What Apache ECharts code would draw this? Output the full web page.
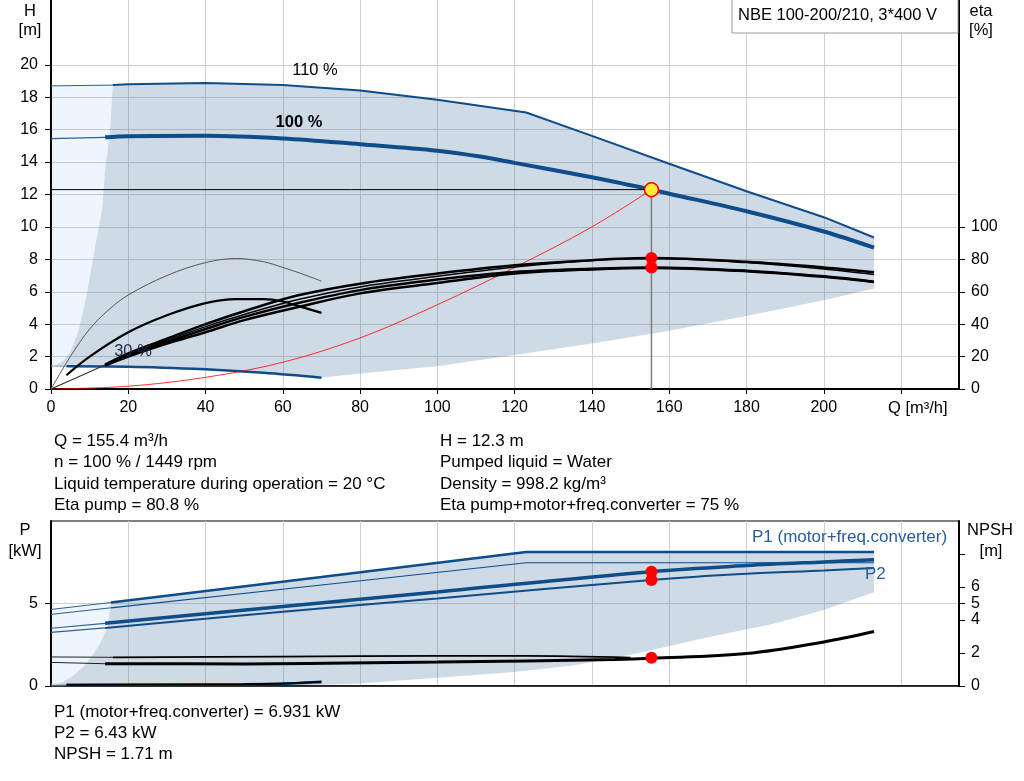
<!DOCTYPE html>
<html>
<head>
<meta charset="utf-8">
<script src="https://cdn.jsdelivr.net/npm/echarts@6/dist/echarts.min.js"></script>
<style>html,body{margin:0;padding:0;background:#fff}#c{width:1024px;height:781px}</style>
</head>
<body>
<div id="c"></div>
<script>
// ---------- axis ticks ----------
const qTicks = [0,20,40,60,80,100,120,140,160,180,200,220];
const qLabels = [0,20,40,60,80,100,120,140,160,180,200];
const hTicks = [0,2,4,6,8,10,12,14,16,18,20];
const etaTicks = [0,20,40,60,80,100];
const pTicks = [0,5];
const npshLabels = [0,2,4,5,6];
const npshTickMarks = [0,2,4,5,6,8];

// ---------- operating point ----------
const opQ = 155.4, opH = 12.3, opEtaPump = 80.8, opEtaTotal = 75, opP1 = 6.931, opP2 = 6.43, opNPSH = 1.71;

// ---------- head curves (Q, H) ----------
const h110Thin = [[0,18.7],[16,18.75]];
const h110 = [[16,18.75],[20,18.8],[40,18.88],[60,18.75],[80,18.42],[100,17.85],[123,17.06],[140,15.62],[160,13.9],[180,12.2],[200,10.6],[213,9.35]];
const h100Thin = [[0,15.45],[14,15.53]];
const h100 = [[14,15.53],[20,15.6],[40,15.63],[60,15.46],[80,15.1],[100,14.7],[111,14.34],[120,13.95],[140,13.06],[155.4,12.3],[160,12.05],[180,10.97],[200,9.72],[213,8.72]];
const hMinThin = [[0,1.42],[4,1.4]];
const hMin = [[4,1.4],[20,1.38],[40,1.22],[55,1.0],[70,0.7]];
const systemCurve = [[0,0],[20,0.17],[40,0.72],[60,1.65],[80,3.15],[100,5.2],[120,7.5],[140,10.0],[155.4,12.3]];
// operating range boundaries (Q, H)
const topLeftEdge = [[16,18.75],[15.3,16],[14,13.5],[13.2,11],[12,9.5],[10.5,7.5],[9,5.5],[7,3.5],[5,2.3],[3,1.7],[1,1.44]];
const topLowerEdge = [[213,6.2],[200,5.48],[180,4.5],[160,3.6],[140,2.81],[120,2.09],[100,1.41],[80,0.96],[70,0.7]];

// ---------- efficiency curves (Q, eta %) ----------
const etaLowThin = [[0,0],[5,20],[10,37],[15,49],[20,58],[30,70],[40,78],[48,80.5],[55,78.5],[60,75],[65,71],[70,66.5]];
const etaLow = [[4,8.5],[10,20],[20,35],[30,45.5],[40,53],[48,55.5],[55,55.5],[60,54],[65,50.5],[70,47]];
const etaStart = [[0,0],[14,14.8]];
const etaA = [[14,15],[20,22],[30,31],[40,40],[50,48],[64,57.8],[80,65],[100,71.2],[120,76.3],[140,79.5],[155.4,80.8],[180,78.5],[200,75],[213,72]];
const etaB = [[14,14.8],[20,21],[30,30],[40,38.5],[50,46],[64,55.2],[80,63],[100,69.5],[120,75.3],[140,79.3],[155.4,80.5],[180,78],[200,74],[213,70.6]];
const etaC = [[14,14.7],[20,20.5],[30,29],[40,37],[50,44.5],[64,53.1],[80,61],[100,67.5],[120,72.2],[140,74.2],[155.4,75],[180,73],[200,69.5],[213,66.2]];
const etaD = [[14,14.5],[20,20],[30,28],[40,35],[50,42.5],[64,50.6],[80,59],[100,65.4],[120,71.2],[140,73.8],[155.4,74.7],[180,72.7],[200,69.2],[213,66]];

// ---------- power curves (Q, P kW) ----------
const p1MaxThin = [[0,4.64],[15.5,5.06]];
const p1Max = [[15.5,5.06],[70,6.6],[123,8.12],[213,8.12]];
const p2MaxThin = [[0,4.34],[15.5,4.74]];
const p2Max = [[15.5,4.74],[70,6.12],[123,7.47],[213,7.47]];
const p1Thin = [[0,3.5],[14,3.8]];
const p1 = [[14,3.8],[60,4.82],[100,5.7],[155.4,6.93],[180,7.3],[200,7.52],[213,7.65]];
const p2Thin = [[0,3.25],[14,3.52]];
const p2 = [[14,3.52],[60,4.5],[100,5.3],[155.4,6.43],[180,6.8],[200,7.0],[213,7.15]];
const pMinThin = [[0,0.05],[4,0.06]];
const pMin = [[4,0.06],[30,0.08],[50,0.1],[60,0.14],[70,0.22]];
const bottomLeftEdge = [[15.5,5.06],[15.4,4.78],[14.6,3.57],[12.7,2.57],[10.5,1.77],[8.4,1.16],[5.35,0.56],[3.2,0.26],[0.6,0.06]];
const bottomLowerEdge = [[213,5.68],[200,4.6],[187,3.78],[170,2.95],[155,2.15],[145,1.65],[135,1.25],[120,0.85],[100,0.5],[80,0.15],[70,0.08],[2,0.05]];

// ---------- NPSH curves (Q, m) ----------
const npshUpperThin = [[0,1.76],[16,1.74]];
const npshUpper = [[16,1.74],[60,1.78],[100,1.82],[123,1.82],[150,1.72]];
const npshLowerThin = [[0,1.43],[14,1.35]];
const npshLower = [[14,1.35],[50,1.34],[100,1.45],[146,1.61],[155.4,1.68],[180,1.97],[200,2.67],[213,3.3]];
const npshMin = [[4,0.08],[50,0.1],[60,0.15],[70,0.28]];

// ---------- styles ----------
const FONT = '"Liberation Sans", Arial, Helvetica, sans-serif';
const BLUE = '#0e4c8a';
const THINBLUE = '#2f5f93';
const GRID = '#d0d0d0';
const SHADE = 'rgba(30,80,140,0.21)';
const LIGHT = 'rgba(60,140,230,0.087)';

function line(data, color, width, xi, yi, extra) {
  return Object.assign({
    type: 'line', data: data, xAxisIndex: xi, yAxisIndex: yi,
    showSymbol: false, symbol: 'none', silent: true, smooth: 0.35,
    lineStyle: { color: color, width: width }, z: 3
  }, extra || {});
}
function area(points, fill, xi, yi) {
  return {
    type: 'custom', xAxisIndex: xi, yAxisIndex: yi, silent: true, z: 1,
    data: [[0, 0]],
    renderItem: function (params, api) {
      return { type: 'polygon', shape: { points: points.map(function (p) { return api.coord(p); }) }, style: { fill: fill } };
    }
  };
}
function dots(data, yi, xi, fill, size, border) {
  return {
    type: 'scatter', data: data, xAxisIndex: xi, yAxisIndex: yi, silent: true, z: 10,
    symbolSize: size, itemStyle: { color: fill, borderColor: border || fill, borderWidth: border ? 1.5 : 0, opacity: 1 }
  };
}

// polygons built from boundary arrays
const topLight = [[0, hMinThin[0][1]]].concat(h110Thin, topLeftEdge.slice(1));
const topShade = h110.concat(topLowerEdge, hMin.slice().reverse(), topLeftEdge.slice().reverse());
const bottomLight = [[0, bottomLowerEdge[bottomLowerEdge.length - 1][1]]].concat(p1MaxThin, bottomLeftEdge.slice(1));
const bottomShade = p1Max.concat(bottomLowerEdge, bottomLeftEdge.slice().reverse());

const labelStyle = { color: '#000', fontSize: 16, fontFamily: FONT };
const axLine = (w) => ({ show: true, onZero: false, lineStyle: { color: '#000', width: w } });

function txt(text, x, y, opt, size) {
  return { type: 'text', x: x, y: y, z: 100, silent: true,
    style: Object.assign({ text: text, font: (size || 17) + 'px ' + FONT, fill: '#000', align: 'left', verticalAlign: 'middle' }, opt || {}) };
}

const option = {
  animation: false,
  backgroundColor: '#fff',
  grid: [
    { left: 51, right: 65, top: 0, height: 389 },
    { left: 51, right: 65, top: 521, height: 165, show: true, borderColor: '#000', borderWidth: 1, backgroundColor: 'transparent' }
  ],
  xAxis: [
    { type: 'value', gridIndex: 0, min: 0, max: 235, interval: 20,
      axisLine: axLine(2),
      axisTick: { show: true, length: 5, lineStyle: { color: '#000' }, customValues: qTicks },
      axisLabel: Object.assign({ margin: 11, customValues: qLabels }, labelStyle),
      splitLine: { show: true, lineStyle: { color: GRID, width: 1 } } },
    { type: 'value', gridIndex: 1, min: 0, max: 235, interval: 20,
      axisLine: axLine(1.5), axisTick: { show: false }, axisLabel: { show: false },
      splitLine: { show: true, lineStyle: { color: GRID, width: 1 } } }
  ],
  yAxis: [
    { type: 'value', gridIndex: 0, min: 0, max: 24, interval: 2, position: 'left',
      axisLine: axLine(2),
      axisTick: { show: true, length: 6, lineStyle: { color: '#000' }, customValues: hTicks },
      axisLabel: Object.assign({ margin: 13, customValues: hTicks }, labelStyle),
      splitLine: { show: true, lineStyle: { color: GRID, width: 1 } } },
    { type: 'value', gridIndex: 0, min: 0, max: 240, interval: 20, position: 'right',
      axisLine: axLine(2),
      axisTick: { show: true, length: 6, lineStyle: { color: '#000' }, customValues: etaTicks },
      axisLabel: Object.assign({ margin: 12, customValues: etaTicks }, labelStyle),
      splitLine: { show: false } },
    { type: 'value', gridIndex: 1, min: 0, max: 10, interval: 5, position: 'left',
      axisLine: axLine(2),
      axisTick: { show: true, length: 6, lineStyle: { color: '#000' }, customValues: pTicks },
      axisLabel: Object.assign({ margin: 13, customValues: pTicks }, labelStyle),
      splitLine: { show: true, lineStyle: { color: GRID, width: 1 } } },
    { type: 'value', gridIndex: 1, min: 0, max: 10, interval: 1, position: 'right',
      axisLine: axLine(2),
      axisTick: { show: true, length: 6, lineStyle: { color: '#000' }, customValues: npshTickMarks },
      axisLabel: Object.assign({ margin: 12, customValues: npshLabels }, labelStyle),
      splitLine: { show: false } }
  ],
  series: [
    // ---- top chart areas ----
    area(topLight, LIGHT, 0, 0),
    area(topShade, SHADE, 0, 0),
    // ---- head curves ----
    line(h110Thin, THINBLUE, 1, 0, 0, { smooth: false }),
    line(h110, BLUE, 2, 0, 0, { smooth: false }),
    line(h100Thin, THINBLUE, 1.2, 0, 0, { smooth: false }),
    line(h100, BLUE, 4, 0, 0),
    line(hMinThin, '#8899aa', 1, 0, 0, { smooth: false }),
    line(hMin, BLUE, 2.5, 0, 0),
    line(systemCurve, 'rgba(255,0,0,0.8)', 1, 0, 0),
    line([[0, opH], [opQ, opH]], '#000', 1, 0, 0, { smooth: false }),
    line([[opQ, opH], [opQ, 0]], '#7f7f7f', 1.5, 0, 0, { smooth: false }),
    // ---- efficiency curves ----
    line(etaLowThin, '#555', 1, 0, 1),
    line(etaLow, '#000', 2.2, 0, 1),
    line(etaStart, '#333', 1.2, 0, 1, { smooth: false }),
    line(etaA, '#000', 2.5, 0, 1),
    line(etaB, '#000', 1.5, 0, 1),
    line(etaC, '#000', 2.5, 0, 1),
    line(etaD, '#000', 2.5, 0, 1),
    dots([[opQ, opEtaPump], [opQ, opEtaTotal]], 1, 0, '#ff0000', 12),
    dots([[opQ, opH]], 0, 0, '#ffee33', 14, '#ff0000'),
    // ---- bottom chart areas ----
    area(bottomLight, LIGHT, 1, 2),
    area(bottomShade, SHADE, 1, 2),
    // ---- power curves ----
    line(p1MaxThin, THINBLUE, 1, 1, 2, { smooth: false }),
    line(p1Max, BLUE, 2.5, 1, 2, { smooth: false }),
    line(p2MaxThin, THINBLUE, 1, 1, 2, { smooth: false }),
    line(p2Max, BLUE, 1.2, 1, 2, { smooth: false }),
    line(p1Thin, THINBLUE, 1.2, 1, 2, { smooth: false }),
    line(p1, BLUE, 3.5, 1, 2),
    line(p2Thin, THINBLUE, 1.2, 1, 2, { smooth: false }),
    line(p2, BLUE, 2, 1, 2),
    line(pMinThin, '#8899aa', 1, 1, 2, { smooth: false }),
    line(pMin, BLUE, 2.5, 1, 2),
    // ---- NPSH curves ----
    line(npshUpperThin, '#222', 1, 1, 3, { smooth: false }),
    line(npshUpper, '#000', 1.8, 1, 3),
    line(npshLowerThin, '#222', 1, 1, 3, { smooth: false }),
    line(npshLower, '#000', 3, 1, 3),
    line(npshMin, '#000', 2, 1, 3),
    dots([[opQ, opP1], [opQ, opP2]], 2, 1, '#ff0000', 12),
    dots([[opQ, opNPSH]], 3, 1, '#ff0000', 12)
  ],
  graphic: [
    { type: 'rect', z: 99, silent: true, shape: { x: 732, y: -1, width: 226, height: 34 }, style: { fill: '#fff', stroke: '#9a9a9a', lineWidth: 1 } },
    txt('NBE 100-200/210, 3*400 V', 738, 15.5, null, 16.5),
    txt('H', 30, 11, { align: 'center' }, 16.5),
    txt('[m]', 30, 30, { align: 'center' }, 16.5),
    txt('eta', 981, 11, { align: 'center' }, 16.5),
    txt('[%]', 981, 30, { align: 'center' }, 16.5),
    txt('Q [m³/h]', 888, 408, null, 16.5),
    txt('110 %', 315, 70, { align: 'center' }, 16.5),
    txt('100 %', 299, 122, { align: 'center', font: 'bold 16.5px ' + FONT }),
    txt('30 %', 133, 351, { align: 'center', fill: '#1c2840' }, 16.5),
    txt('Q = 155.4 m³/h', 54, 441.5),
    txt('n = 100 % / 1449 rpm', 54, 462.5),
    txt('Liquid temperature during operation = 20 °C', 54, 484.5),
    txt('Eta pump = 80.8 %', 54, 505.5),
    txt('H = 12.3 m', 440, 441.5),
    txt('Pumped liquid = Water', 440, 462.5),
    txt('Density = 998.2 kg/m³', 440, 484.5),
    txt('Eta pump+motor+freq.converter = 75 %', 440, 505.5),
    txt('P', 25, 530, { align: 'center' }, 16.5),
    txt('[kW]', 25, 551, { align: 'center' }, 16.5),
    txt('NPSH', 990, 530, { align: 'center' }, 16.5),
    txt('[m]', 991, 551, { align: 'center' }, 16.5),
    txt('P1 (motor+freq.converter)', 752, 537, { fill: '#2a5d98' }),
    txt('P2', 865, 574, { fill: '#2a5d98' }),
    txt('P1 (motor+freq.converter) = 6.931 kW', 54, 712.5),
    txt('P2 = 6.43 kW', 54, 733.5),
    txt('NPSH = 1.71 m', 54, 754.5)
  ]
};
const chart = echarts.init(document.getElementById('c'), null, { renderer: 'canvas' });
chart.setOption(option);
</script>
</body>
</html>
